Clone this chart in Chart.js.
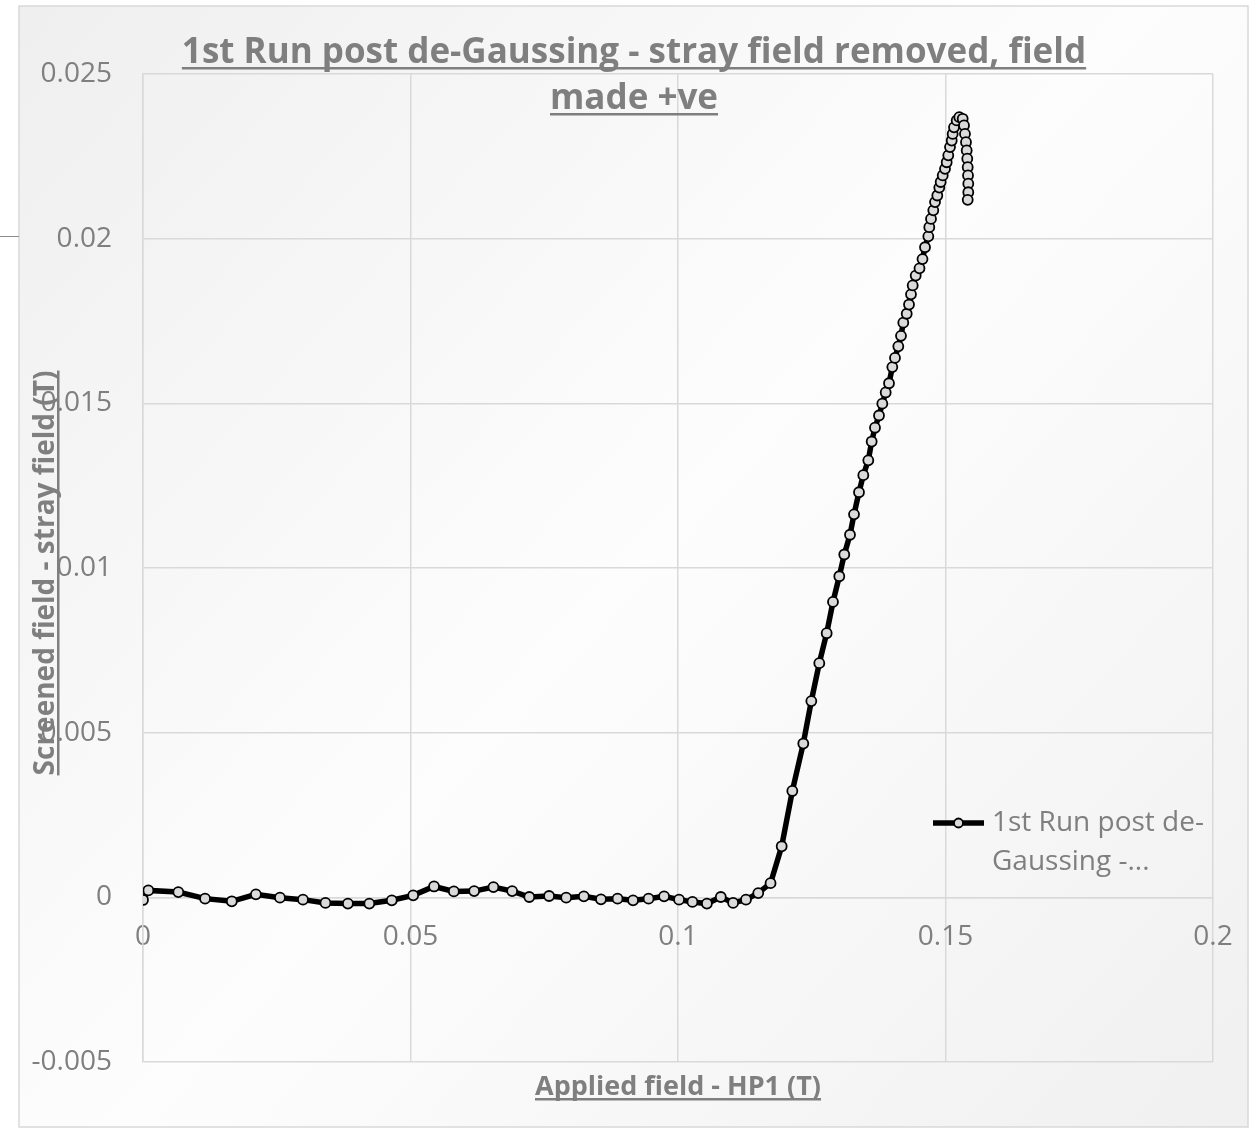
<!DOCTYPE html>
<html>
<head>
<meta charset="utf-8">
<script src="https://cdn.jsdelivr.net/npm/chart.js@4.4.1/dist/chart.umd.min.js"></script>
<style>
  html, body { margin: 0; padding: 0; background: #ffffff; }
  #wrap { width: 1260px; height: 1131px; position: relative; }
</style>
</head>
<body>
<div id="wrap"><canvas id="c" width="1260" height="1131"></canvas></div>
<script>
// ---- data ----
const chartTitleLines = ["1st Run post de-Gaussing - stray field removed, field", "made +ve"];
const xAxisTitle = "Applied field - HP1 (T)";
const yAxisTitle = "Screened field - stray field (T)";
const seriesName = "1st Run post de-Gaussing - stray field removed, field made +ve";
const legendLines = ["1st Run post de-", "Gaussing -..."];

const xTickValues = [0, 0.05, 0.1, 0.15, 0.2];
const yTickValues = [-0.005, 0, 0.005, 0.01, 0.015, 0.02, 0.025];

const appliedField = [
  0, 0.001, 0.0066, 0.0116, 0.0166, 0.0211, 0.0256, 0.0299, 0.0341, 0.0383,
  0.0423, 0.0465, 0.0505, 0.0544, 0.0581, 0.0619, 0.0655, 0.069, 0.0722, 0.0759,
  0.0791, 0.0824, 0.0856, 0.0887, 0.0916, 0.0945, 0.0974, 0.1002, 0.1027, 0.1054,
  0.108, 0.1103, 0.1127, 0.115, 0.1173,
  0.11938, 0.12137, 0.12342, 0.12492, 0.12641, 0.12779, 0.12897, 0.13015, 0.13108, 0.13215,
  0.13290, 0.13383, 0.13464, 0.13557, 0.13620, 0.13682, 0.13757, 0.13819, 0.13882, 0.13944,
  0.14006, 0.14056, 0.14118, 0.14168, 0.14211, 0.14275, 0.14318, 0.14355, 0.14387, 0.14443,
  0.14514, 0.14570, 0.14617, 0.14679, 0.14697, 0.14729, 0.14772, 0.14804, 0.14847, 0.14884,
  0.14910, 0.14948, 0.14991, 0.15022, 0.15052, 0.15084, 0.15116, 0.15134, 0.15159, 0.15209,
  0.15258, 0.15321, 0.15346, 0.15364, 0.15383, 0.15396, 0.15407, 0.15415, 0.15421, 0.15426,
  0.15426, 0.15415
];
const screenedField = [
  -0.00008, 0.00021, 0.00016, -0.00004, -0.00012, 0.00009, -0.00001, -0.00007, -0.00017, -0.00019,
  -0.00019, -0.00009, 0.00006, 0.00033, 0.00018, 0.00019, 0.00031, 0.00019, 0.00001, 0.00004,
  -0.00001, 0.00003, -0.00006, -0.00004, -0.00009, -0.00004, 0.00003, -0.00007, -0.00014, -0.00019,
  0.00001, -0.00017, -0.00007, 0.00013, 0.00043,
  0.00155, 0.00323, 0.00467, 0.00596, 0.00711, 0.00802, 0.00897, 0.00975, 0.01041, 0.01101,
  0.01163, 0.01230, 0.01282, 0.01327, 0.01384, 0.01426, 0.01463, 0.01499, 0.01533, 0.01561,
  0.01610, 0.01638, 0.01673, 0.01705, 0.01745, 0.01772, 0.01800, 0.01831, 0.01858, 0.01888,
  0.01910, 0.01938, 0.01974, 0.02007, 0.02035, 0.02060, 0.02086, 0.02111, 0.02131, 0.02155,
  0.02172, 0.02192, 0.02212, 0.02232, 0.02253, 0.02278, 0.02298, 0.02318, 0.02338, 0.02359,
  0.02369, 0.02364, 0.02344, 0.02318, 0.02293, 0.02268, 0.02243, 0.02217, 0.02192, 0.02167,
  0.02141, 0.02118
];

// ---- styles ----
const GRID = '#d9d9d9';
const TEXT = '#7f7f7f';
const FONT = '"Open Sans", "Liberation Sans", sans-serif';

const points = appliedField.map((x, i) => ({ x: x, y: screenedField[i] }));

const decor = {
  id: 'decor',
  beforeDraw(chart) {
    const ctx = chart.ctx;
    ctx.save();
    ctx.fillStyle = '#ffffff';
    ctx.fillRect(0, 0, chart.width, chart.height);
    const bx = 19, by = 6, bw = 1229, bh = 1121;
    const g = ctx.createLinearGradient(bx, by, bx + bw, by + bh);
    g.addColorStop(0, '#efefef');
    g.addColorStop(0.5, '#fdfdfd');
    g.addColorStop(1, '#f0f0f0');
    ctx.fillStyle = g;
    ctx.fillRect(bx, by, bw, bh);
    ctx.strokeStyle = GRID;
    ctx.lineWidth = 1.5;
    ctx.strokeRect(bx, by, bw, bh);
    // small stray line at left edge
    ctx.strokeStyle = '#8c8c8c';
    ctx.lineWidth = 1;
    ctx.beginPath();
    ctx.moveTo(0, 236.5);
    ctx.lineTo(bx, 236.5);
    ctx.stroke();
    ctx.restore();
  },
  afterDraw(chart) {
    const ctx = chart.ctx;
    const area = chart.chartArea;
    ctx.save();
    ctx.fillStyle = TEXT;
    // title
    ctx.font = 'bold 35px ' + FONT;
    ctx.textAlign = 'center';
    ctx.textBaseline = 'alphabetic';
    const tx = 634;
    const tBase = [63, 109];
    chartTitleLines.forEach((t, i) => {
      ctx.fillText(t, tx, tBase[i]);
      const w = ctx.measureText(t).width;
      ctx.fillRect(tx - w / 2, tBase[i] + 4, w, 2.5);
    });
    // x axis title
    ctx.font = 'bold 27px ' + FONT;
    const xcx = (area.left + area.right) / 2;
    const xb = 1095;
    ctx.fillText(xAxisTitle, xcx, xb);
    let w = ctx.measureText(xAxisTitle).width;
    ctx.fillRect(xcx - w / 2, xb + 3, w, 2.5);
    // y axis title (rotated)
    ctx.font = 'bold 28px ' + FONT;
    ctx.save();
    ctx.translate(54, (area.top + area.bottom) / 2 + 5);
    ctx.rotate(-Math.PI / 2);
    ctx.fillText(yAxisTitle, 0, 0);
    w = ctx.measureText(yAxisTitle).width;
    ctx.fillRect(-w / 2, 3, w, 2.5);
    ctx.restore();
    // legend
    const ds = chart.data.datasets[0];
    const ly = 823;
    ctx.strokeStyle = ds.borderColor;
    ctx.lineWidth = ds.borderWidth;
    ctx.beginPath();
    ctx.moveTo(933, ly);
    ctx.lineTo(984, ly);
    ctx.stroke();
    ctx.beginPath();
    ctx.arc(958.5, ly, ds.pointRadius - 0.5, 0, Math.PI * 2);
    ctx.fillStyle = ds.pointBackgroundColor;
    ctx.fill();
    ctx.lineWidth = ds.pointBorderWidth;
    ctx.strokeStyle = ds.pointBorderColor;
    ctx.stroke();
    ctx.fillStyle = TEXT;
    ctx.font = '28px ' + FONT;
    ctx.textAlign = 'left';
    ctx.textBaseline = 'middle';
    legendLines.forEach((t, i) => ctx.fillText(t, 992, ly + i * 39));
    ctx.restore();
  }
};

new Chart(document.getElementById('c'), {
  type: 'scatter',
  data: {
    datasets: [{
      label: seriesName,
      data: points,
      showLine: true,
      tension: 0,
      borderColor: '#000000',
      borderWidth: 5.5,
      pointRadius: 5,
      pointHoverRadius: 5,
      pointBackgroundColor: '#dadada',
      pointBorderColor: '#000000',
      pointBorderWidth: 1.8
    }]
  },
  options: {
    responsive: false,
    animation: false,
    devicePixelRatio: 1,
    layout: { padding: { left: 0, top: 74, right: 47, bottom: 69 } },
    plugins: {
      legend: { display: false },
      title: { display: false },
      tooltip: { enabled: false }
    },
    scales: {
      x: {
        type: 'linear',
        position: { y: 0 },
        min: 0,
        max: 0.2,
        afterFit(s) { s.height = 0; },
        afterBuildTicks(s) { s.ticks = xTickValues.map(v => ({ value: v })); },
        grid: { color: GRID, lineWidth: 1.5, drawTicks: false },
        border: { color: GRID, width: 1.5 },
        ticks: {
          color: TEXT,
          font: { family: FONT, size: 28 },
          padding: 23,
          maxRotation: 0,
          callback: (v) => String(v)
        }
      },
      y: {
        type: 'linear',
        min: -0.005,
        max: 0.025,
        afterFit(s) { s.width = 143; },
        afterBuildTicks(s) { s.ticks = yTickValues.map(v => ({ value: v })); },
        grid: { color: GRID, lineWidth: 1.5, drawTicks: false },
        border: { color: GRID, width: 1.5 },
        ticks: {
          color: TEXT,
          font: { family: FONT, size: 28 },
          padding: 31,
          callback: (v) => String(v)
        }
      }
    }
  },
  plugins: [decor]
});
</script>
</body>
</html>
